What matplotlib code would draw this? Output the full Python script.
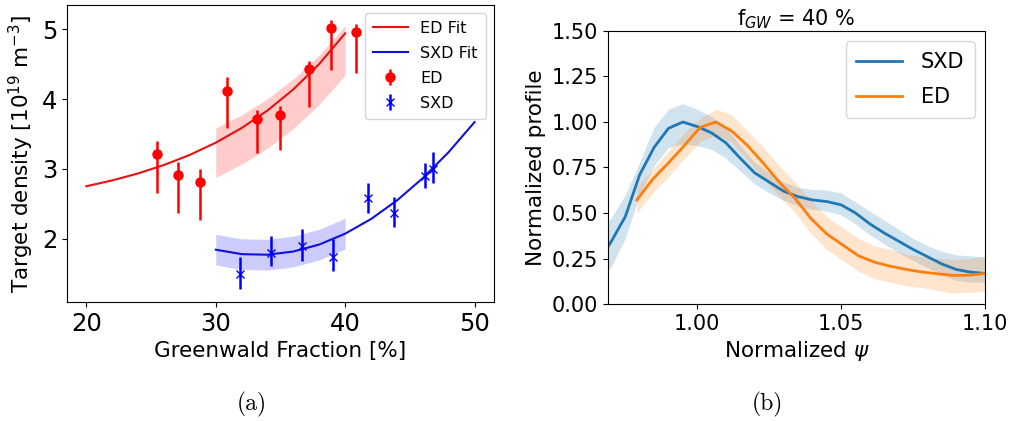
import numpy as np
import matplotlib
matplotlib.use("Agg")
import matplotlib.pyplot as plt

# ---- panel (a): target density vs Greenwald fraction ----
ed_x = [25.47, 27.1, 28.78, 30.85, 33.18, 34.98, 37.23, 38.94, 40.85]
ed_y = [3.21, 2.91, 2.81, 4.12, 3.72, 3.77, 4.43, 5.02, 4.96]
ed_hi = [3.40, 3.10, 3.00, 4.31, 3.84, 3.90, 4.55, 5.14, 5.07]
ed_lo = [2.66, 2.36, 2.26, 3.58, 3.23, 3.27, 3.89, 4.42, 4.38]

sxd_x = [31.88, 34.26, 36.67, 39.04, 41.75, 43.77, 46.15, 46.77]
sxd_y = [1.49, 1.79, 1.90, 1.74, 2.58, 2.37, 2.89, 3.00]
sxd_hi = [1.74, 2.03, 2.13, 1.99, 2.80, 2.60, 3.09, 3.24]
sxd_lo = [1.28, 1.60, 1.68, 1.54, 2.37, 2.16, 2.73, 2.80]

# fit curves
ed_fit_x = [20, 22, 24, 26, 28, 30, 32, 34, 36, 38, 40]
ed_fit_y = [2.750, 2.834, 2.934, 3.055, 3.200, 3.375, 3.585, 3.837, 4.140, 4.505, 4.943]
ed_band_x = [30, 32, 34, 36, 38, 40]
ed_band_lo = [2.875, 3.065, 3.297, 3.580, 3.925, 4.343]
ed_band_hi = [3.585, 3.775, 4.007, 4.290, 4.635, 5.053]

sxd_fit_x = [30, 32, 34, 36, 38, 40, 42, 44, 46, 48, 50]
sxd_fit_y = [1.840, 1.776, 1.768, 1.814, 1.914, 2.070, 2.280, 2.546, 2.866, 3.240, 3.670]
sxd_band_x = [30, 32, 34, 36, 38, 40]
sxd_band_lo = [1.620, 1.556, 1.548, 1.594, 1.694, 1.850]
sxd_band_hi = [2.060, 1.996, 1.988, 2.034, 2.134, 2.290]

# ---- panel (b): normalized profiles ----
psi_sxd = [0.965, 0.970, 0.975, 0.980, 0.985, 0.990, 0.995, 1.000, 1.005, 1.010,
           1.015, 1.020, 1.025, 1.030, 1.035, 1.040, 1.045, 1.050, 1.055, 1.060,
           1.065, 1.070, 1.075, 1.080, 1.085, 1.090, 1.095, 1.100]
prof_sxd = [0.22, 0.34, 0.48, 0.71, 0.86, 0.965, 1.00, 0.975, 0.94, 0.885,
            0.80, 0.72, 0.67, 0.62, 0.59, 0.572, 0.563, 0.545, 0.50, 0.44,
            0.39, 0.345, 0.30, 0.26, 0.22, 0.19, 0.175, 0.168]
sxd_lo_b = [0.15, 0.20, 0.36, 0.60, 0.76, 0.86, 0.88, 0.87, 0.85, 0.80,
            0.73, 0.66, 0.61, 0.57, 0.54, 0.52, 0.51, 0.49, 0.44, 0.38,
            0.33, 0.28, 0.24, 0.20, 0.16, 0.13, 0.12, 0.12]
sxd_hi_b = [0.40, 0.47, 0.60, 0.78, 0.97, 1.07, 1.10, 1.07, 1.03, 0.97,
            0.87, 0.78, 0.72, 0.67, 0.64, 0.63, 0.625, 0.61, 0.56, 0.51,
            0.46, 0.41, 0.36, 0.32, 0.29, 0.27, 0.265, 0.26]

psi_ed = [0.979, 0.9845, 0.990, 0.9955, 1.001, 1.0065, 1.012, 1.0175, 1.023, 1.0285,
          1.034, 1.0395, 1.045, 1.0505, 1.056, 1.0615, 1.067, 1.0725, 1.078, 1.0835,
          1.089, 1.0945, 1.100]
prof_ed = [0.571, 0.685, 0.775, 0.87, 0.97, 1.00, 0.95, 0.87, 0.773, 0.67,
           0.58, 0.47, 0.385, 0.325, 0.265, 0.23, 0.208, 0.19, 0.176, 0.166,
           0.157, 0.158, 0.168]
ed_lo_b = [0.50, 0.61, 0.70, 0.80, 0.89, 0.93, 0.89, 0.79, 0.69, 0.59,
           0.50, 0.39, 0.30, 0.24, 0.18, 0.14, 0.12, 0.10, 0.09, 0.075,
           0.06, 0.065, 0.07]
ed_hi_b = [0.645, 0.74, 0.84, 0.94, 1.02, 1.07, 1.04, 0.95, 0.86, 0.76,
           0.67, 0.57, 0.48, 0.42, 0.36, 0.32, 0.30, 0.275, 0.26, 0.25,
           0.245, 0.25, 0.26]

fig = plt.figure(figsize=(10.12, 4.21), dpi=100)
ax1 = fig.add_axes([0.0662, 0.2827, 0.4219, 0.7055])
ax2 = fig.add_axes([0.6008, 0.2779, 0.3725, 0.6485])

# panel a
ax1.fill_between(ed_band_x, ed_band_lo, ed_band_hi, color="red", alpha=0.2, lw=0)
ax1.fill_between(sxd_band_x, sxd_band_lo, sxd_band_hi, color="blue", alpha=0.2, lw=0)
ax1.plot(ed_fit_x, ed_fit_y, color="#e81010", lw=1.5, label="ED Fit")
ax1.plot(sxd_fit_x, sxd_fit_y, color="#1010d8", lw=1.5, label="SXD Fit")

ed_err = [np.array(ed_y) - np.array(ed_lo), np.array(ed_hi) - np.array(ed_y)]
sxd_err = [np.array(sxd_y) - np.array(sxd_lo), np.array(sxd_hi) - np.array(sxd_y)]
ax1.errorbar(ed_x, ed_y, yerr=ed_err, fmt="o", color="red", ms=6.5, elinewidth=1.8, label="ED")
ax1.errorbar(sxd_x, sxd_y, yerr=sxd_err, fmt="x", color="blue", ms=6, elinewidth=1.8, label="SXD")

ax1.set_xlim(18.5, 51.5)
ax1.set_ylim(1.09, 5.35)
ax1.set_xticks([20, 30, 40, 50])
ax1.set_yticks([2, 3, 4, 5])
ax1.tick_params(labelsize=17.5)
ax1.set_xlabel("Greenwald Fraction [%]", fontsize=15.5)
ax1.set_ylabel("Target density [10$^{19}$ m$^{-3}$]", fontsize=15.5)
ax1.legend(loc="upper right", fontsize=11.5, handlelength=2.2, handletextpad=0.8,
           labelspacing=0.62, borderpad=0.5)

# panel b
ax2.plot(psi_sxd, prof_sxd, color="tab:blue", lw=2, label="SXD")
ax2.fill_between(psi_sxd, sxd_lo_b, sxd_hi_b, color="tab:blue", alpha=0.2, lw=0)
ax2.plot(psi_ed, prof_ed, color="tab:orange", lw=2, label="ED")
ax2.fill_between(psi_ed, ed_lo_b, ed_hi_b, color="tab:orange", alpha=0.2, lw=0)
ax2.set_xlim(0.969, 1.10)
ax2.set_ylim(0, 1.5)
ax2.set_xticks([1.00, 1.05, 1.10])
ax2.set_yticks([0, 0.25, 0.5, 0.75, 1.0, 1.25, 1.5])
ax2.set_xticklabels(["1.00", "1.05", "1.10"])
ax2.set_yticklabels(["0.00", "0.25", "0.50", "0.75", "1.00", "1.25", "1.50"])
ax2.tick_params(labelsize=15)
ax2.set_xlabel(r"Normalized $\psi$", fontsize=15.5)
ax2.set_ylabel("Normalized profile", fontsize=15.5)
ax2.set_title("f$_{GW}$ = 40 %", fontsize=15, pad=3)
ax2.legend(loc="upper right", fontsize=15, handlelength=2.2, handletextpad=0.9,
           labelspacing=0.75, borderpad=0.5)

fig.text(0.249, 0.04, "(a)", family="cmr10", fontsize=17, ha="center", va="center")
fig.text(0.758, 0.04, "(b)", family="cmr10", fontsize=17, ha="center", va="center")

fig.savefig("out.png", dpi=100)
